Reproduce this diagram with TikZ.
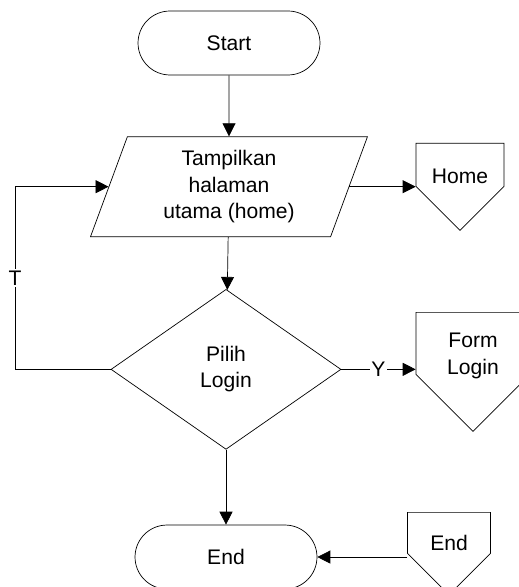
\documentclass[tikz,border=0pt]{standalone}
\usepackage{fontspec}
\setmainfont{Liberation Sans}
\usetikzlibrary{positioning, shapes.geometric, shapes.symbols, arrows.meta}

\begin{document}
\begin{tikzpicture}[x=0.02cm, y=-0.02cm]
      % Define styles for nodes
      \tikzset{
        every node/.style={font=\fontsize{12}{15}\selectfont},
        terminal/.style={rectangle, rounded corners=0.64cm, draw, minimum width=3.64cm, minimum height=1.28cm, inner sep=0pt},
        iobox/.style={trapezium, trapezium left angle=63, trapezium right angle=117, trapezium stretches body, draw, minimum width=5.54cm, minimum height=2cm, align=center, inner sep=0pt},
        decision/.style={diamond, draw, minimum width=4.6cm, minimum height=3.2cm, align=center, inner sep=0pt},
        offpage/.style={signal, signal to=south, signal pointer angle=90, draw, align=center, inner sep=0pt},
        arrow/.style={-{Triangle[length=0.26cm, width=0.26cm]}},
        answer/.style={fill=white, inner sep=1pt}
      }
      \useasboundingbox (0,0) rectangle (519,587);

      % Main flow
      \node[terminal] (start) at (229,43) {Start};
      \node[iobox, below=1.22cm of start] (show) {Tampilkan\\halaman\\utama (home)};
      \node[decision, below=1.04cm of show, xshift=-0.06cm] (choose) {Pilih\\Login};
      \node[terminal, below=1.5cm of choose] (stop) {End};

      % Off-page connectors
      \node[offpage, anchor=north, minimum width=1.76cm, text height=0.8cm, text depth=0.06cm] (home) at (460,143) {Home};
      \node[offpage, anchor=north, minimum width=2.28cm, text height=1.24cm, text depth=-0.12cm] (login) at (473,312) {Form\\Login};
      \node[offpage, anchor=north, minimum width=1.66cm, text height=0.76cm, text depth=0.06cm] (endref) at (449,512) {End};
      \coordinate (loop) at (15,0);

      % Draw the edges connecting the nodes
      \draw[arrow] (start) -- (show);
      \draw[arrow] (show) -- (choose);
      \draw[arrow] (choose) -- (stop);
      \draw[arrow] (show.east) -- (show.east -| home.west);
      \draw[arrow] (choose.east) -- node[answer] {Y} (choose.east -| login.west);
      \draw[arrow] (choose.west) -- (choose.west -| loop) -- node[answer] {T} (show.west -| loop) -- (show.west);
      \draw[arrow] (stop.east -| endref.west) -- (stop.east);
\end{tikzpicture}
\end{document}
